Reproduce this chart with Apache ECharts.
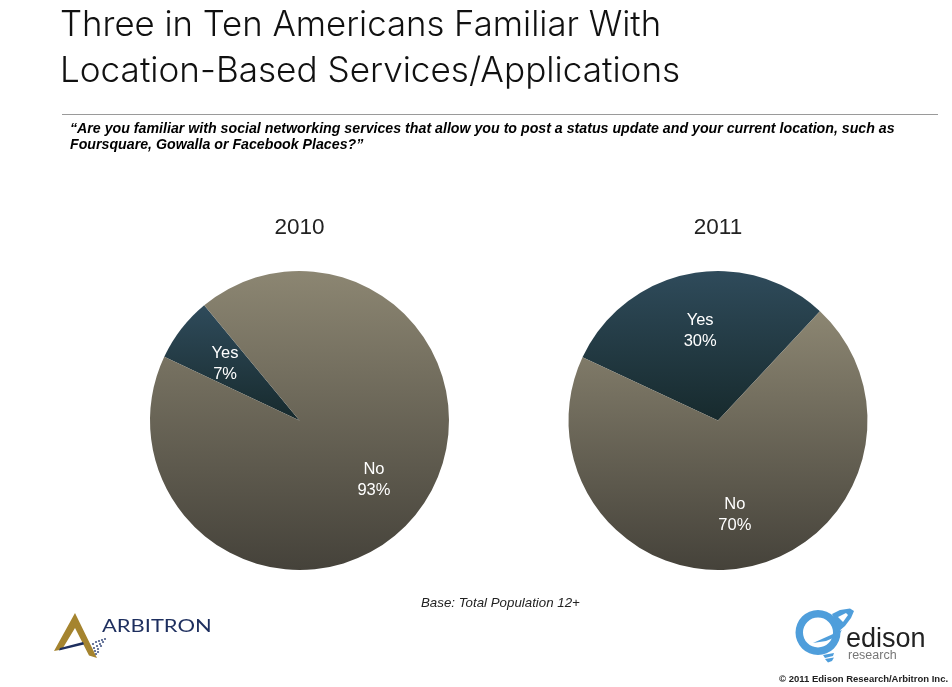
<!DOCTYPE html>
<html>
<head>
<meta charset="utf-8">
<title>Location-Based Services</title>
<style>
    html, body { margin: 0; padding: 0; background: #fff; }
    #chart { width: 952px; height: 687px; }
</style>
<script src="https://cdn.jsdelivr.net/npm/echarts@6/dist/echarts.min.js"></script>
</head>
<body>
<div id="chart"></div>
<script>
const years = ['2010', '2011'];
const categories = ['Yes', 'No'];
const values2010 = [7, 93];
const values2011 = [30, 70];
const titleLines = ['Three in Ten Americans Familiar With', 'Location-Based Services/Applications'];
const questionLines = [
    '“Are you familiar with social networking services that allow you to post a status update and your current location, such as',
    'Foursquare, Gowalla or Facebook Places?”'
];
const baseNote = 'Base: Total Population 12+';
const copyright = '© 2011 Edison Research/Arbitron Inc.';

const FONT = '"Liberation Sans", Arial, sans-serif';
const LIGHT = 'Inter, ' + FONT;
const chart = echarts.init(document.getElementById('chart'));

// 切片的竖向渐变
function vGradient(top, bottom) {
    return new echarts.graphic.LinearGradient(0, 0, 0, 1, [
        { offset: 0, color: top },
        { offset: 1, color: bottom }
    ]);
}

const sliceColors = {
    '2010': [vGradient('#2f4b5b', '#172a2d'), vGradient('#8c8672', '#45423a')],
    '2011': [vGradient('#2f4b5b', '#172a2d'), vGradient('#8c8672', '#45423a')]
};

// 标签相对默认位置的偏移
const labelShift = {
    '2010': [{ dx: -13, dy: -9 }, { dx: 13, dy: 12 }],
    '2011': [{ dx: -3, dy: -13.5 }, { dx: 2, dy: 18.5 }]
};

function pieSeries(year, values, centerX, startAngle) {
    return {
        type: 'pie',
        name: year,
        center: [centerX, 420.5],
        radius: [0, 149.5],
        startAngle: startAngle,
        silent: true,
        animation: false,
        itemStyle: { borderWidth: 0 },
        label: {
            show: true,
            position: 'inner',
            color: '#fff',
            fontFamily: FONT,
            fontSize: 16.5,
            lineHeight: 21,
            formatter: '{b}\n{c}%'
        },
        labelLine: { show: false },
        labelLayout: params => labelShift[year][params.dataIndex],
        data: categories.map((name, i) => ({
            name: name,
            value: values[i],
            itemStyle: { color: sliceColors[year][i] }
        }))
    };
}

function textItem(text, x, y, size, extra) {
    return {
        type: 'text',
        x: x,
        y: y,
        silent: true,
        style: Object.assign({
            text: text,
            fontFamily: FONT,
            fontSize: size,
            fill: '#000',
            textVerticalAlign: 'middle'
        }, extra || {})
    };
}

function polygonItem(points, fill) {
    return { type: 'polygon', silent: true, shape: { points: points }, style: { fill: fill } };
}

const BLUE = '#4f9edb';
const GOLD = '#a5842f';
const NAVY = '#1d2e5e';

// Arbitron 标志上的小圆点
const dotPoints = [[93, 644], [96, 642], [99, 641], [102, 640], [105, 639], [94, 648], [97, 646], [100, 644], [103, 642], [95, 651], [98, 649], [101, 646], [96, 654], [98, 652]];

const logoItems = [
    polygonItem([[75, 613], [97, 658], [89, 655.5], [75, 628], [62, 649.5], [54, 651]], GOLD),
    polygonItem([[60, 648], [83, 642], [84, 644.5], [59, 650.5]], NAVY),
    ...dotPoints.map(p => ({
        type: 'circle', silent: true,
        shape: { cx: p[0], cy: p[1], r: 1.1 },
        style: { fill: '#4a5a86' }
    })),
    Object.assign(textItem('ARBITRON', 102, 627, 17, { fill: NAVY, fontFamily: 'Lato, ' + FONT }), { scaleX: 1.29 }),
    {
        type: 'ring', silent: true,
        shape: { cx: 818, cy: 632.5, r: 22.5, r0: 15 },
        style: { fill: BLUE }
    },
    // 轨道和中间的尖角
    polygonItem([[832, 614], [840, 610], [850, 608.5], [854, 611], [851, 618], [845, 626], [838, 632], [836, 622]], BLUE),
    polygonItem([[838, 617], [846, 613], [848, 615], [843, 622]], '#fff'),
    polygonItem([[813, 643], [842, 630], [838, 636], [826, 641]], BLUE),
    // 灯泡底座
    polygonItem([[823, 655], [834, 653], [833, 656], [825, 658]], BLUE),
    polygonItem([[825, 659], [834, 657.5], [832, 661], [828, 662.5]], BLUE),
    textItem('edison', 846, 640, 27, { fill: '#222' }),
    textItem('research', 848, 655.5, 12.5, { fill: '#777' })
];

const option = {
    backgroundColor: '#fff',
    animation: false,
    graphic: {
        elements: [
            Object.assign(textItem(titleLines[0], 60, 25, 35, { fill: '#111', fontFamily: LIGHT, fontWeight: 300 }), { scaleX: 0.992 }),
            Object.assign(textItem(titleLines[1], 60, 71, 35, { fill: '#111', fontFamily: LIGHT, fontWeight: 300 }), { scaleX: 1.003 }),
            {
                type: 'line', silent: true,
                shape: { x1: 62, y1: 114.5, x2: 938, y2: 114.5 },
                style: { stroke: '#9a9a9a', lineWidth: 1 }
            },
            textItem(questionLines[0], 70, 129, 14.2, { fontWeight: 'bold', fontStyle: 'italic' }),
            textItem(questionLines[1], 70, 145, 14.2, { fontWeight: 'bold', fontStyle: 'italic' }),
            textItem(years[0], 299.5, 228, 22.5, { fill: '#222', textAlign: 'center' }),
            textItem(years[1], 718, 228, 22.5, { fill: '#222', textAlign: 'center' }),
            textItem(baseNote, 421, 603, 13.3, { fill: '#222', fontStyle: 'italic' }),
            textItem(copyright, 779, 679, 9.5, { fontWeight: 'bold', fill: '#222' }),
            ...logoItems
        ]
    },
    series: [
        pieSeries(years[0], values2010, 299.5, 154.8),
        pieSeries(years[1], values2011, 718, 155)
    ]
};

chart.setOption(option);

window.addEventListener('resize', function () {
    chart.resize();
});
</script>
</body>
</html>
